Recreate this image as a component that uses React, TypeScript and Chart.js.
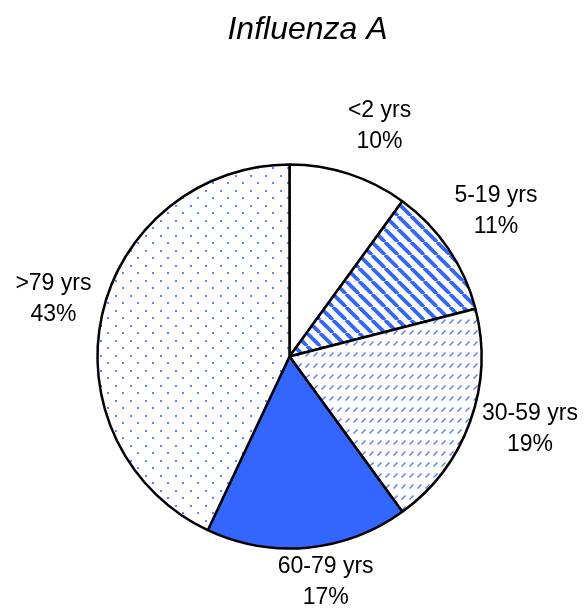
import React, { useEffect, useRef } from "react";
import { Chart, registerables } from "chart.js";

Chart.register(...registerables);

const categories = ["<2 yrs", "5-19 yrs", "30-59 yrs", "60-79 yrs", ">79 yrs"];
const values = [10, 11, 19, 17, 43];
const percentLabels = ["10%", "11%", "19%", "17%", "43%"];
const titleText = "Influenza A";
// small label nudges (style only), in px
const labelNudgeX = [14, 3, 9, 13, 4];
const labelNudgeY = [4, -7, -11, -19, -4];

function makeTile(w: number, h: number, draw: (ctx: CanvasRenderingContext2D) => void) {
  const c = document.createElement("canvas");
  c.width = w;
  c.height = h;
  const ctx = c.getContext("2d")!;
  ctx.fillStyle = "#ffffff";
  ctx.fillRect(0, 0, w, h);
  draw(ctx);
  return c;
}

export default function App() {
  const ref = useRef<HTMLCanvasElement | null>(null);

  useEffect(() => {
    const canvas = ref.current;
    if (!canvas) return;
    const ctx0 = canvas.getContext("2d")!;

    const S = 13;
    const stripeTile = makeTile(S, S, (ctx) => {
      ctx.strokeStyle = "#3366ff";
      ctx.lineWidth = 3.8;
      for (let k = -1; k <= 1; k++) {
        ctx.beginPath();
        ctx.moveTo(k * S, 0);
        ctx.lineTo(k * S + S, S);
        ctx.stroke();
      }
    });
    const dashTile = makeTile(8, 11, (ctx) => {
      ctx.strokeStyle = "rgba(60,100,255,0.85)";
      ctx.lineWidth = 1.4;
      ctx.beginPath();
      ctx.moveTo(1.5, 7.5);
      ctx.lineTo(5.5, 3.5);
      ctx.stroke();
    });
    const dotTile = makeTile(15, 15, (ctx) => {
      ctx.fillStyle = "#5f82ff";
      ctx.fillRect(2, 2, 2, 2);
      ctx.fillRect(9, 9, 2, 2);
    });

    const fills: (string | CanvasPattern)[] = [
      "#ffffff",
      ctx0.createPattern(stripeTile, "repeat")!,
      ctx0.createPattern(dashTile, "repeat")!,
      "#3366ff",
      ctx0.createPattern(dotTile, "repeat")!,
    ];

    const labelPlugin = {
      id: "labelPlugin",
      afterDraw(chart: any) {
        const ctx = chart.ctx as CanvasRenderingContext2D;
        ctx.save();
        ctx.fillStyle = "#000";
        ctx.font = "italic 32px 'Liberation Sans', Arial, sans-serif";
        ctx.textAlign = "center";
        ctx.textBaseline = "alphabetic";
        ctx.fillText(titleText, 299.5, 31);

        const meta = chart.getDatasetMeta(0);
        ctx.font = "23px 'Liberation Sans', Arial, sans-serif";
        ctx.textBaseline = "middle";
        meta.data.forEach((arc: any, i: number) => {
          const p = arc.getProps(["x", "y", "startAngle", "endAngle", "outerRadius"], true);
          const mid = (p.startAngle + p.endAngle) / 2;
          const d = p.outerRadius + 54;
          const x = p.x + Math.cos(mid) * d + labelNudgeX[i];
          const y = p.y + Math.sin(mid) * d + labelNudgeY[i];
          ctx.fillText(categories[i], x, y - 15.5);
          ctx.fillText(percentLabels[i], x, y + 15.5);
        });
        ctx.restore();
      },
    };

    const chart = new Chart(canvas, {
      type: "pie",
      data: {
        labels: categories,
        datasets: [
          {
            data: values,
            backgroundColor: fills as any,
            borderColor: "#000000",
            borderWidth: 2.5,
            borderAlign: "center",
            radius: 192,
          } as any,
        ],
      },
      options: {
        animation: false,
        responsive: false,
        events: [],
        layout: { padding: { left: 81.5, right: 88.5, top: 148.5, bottom: 59.5 } },
        plugins: {
          legend: { display: false },
          tooltip: { enabled: false },
          title: { display: false },
        },
      } as any,
      plugins: [labelPlugin],
    });
    return () => chart.destroy();
  }, []);

  return (
    <div style={{ width: 570, height: 608, marginBottom: -8, overflow: "hidden" }}>
      <canvas ref={ref} width={570} height={608} style={{ display: "block", width: 570, height: 608 }} />
    </div>
  );
}
